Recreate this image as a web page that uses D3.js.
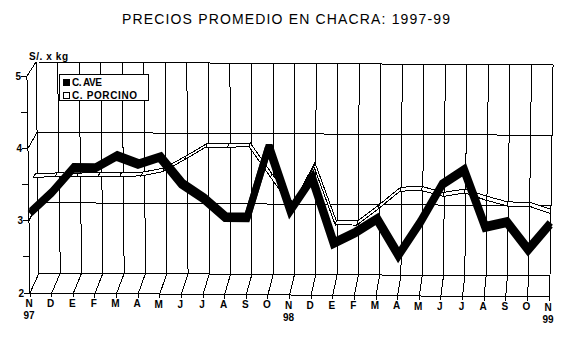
<!DOCTYPE html>
<html><head><meta charset="utf-8">
<script src="https://cdn.jsdelivr.net/npm/d3@7"></script>
<style>
body{margin:0;background:#fff}
svg{display:block}
text{font-family:"Liberation Sans",Arial,sans-serif;fill:#000}
</style>
</head><body>
<svg width="566" height="359"></svg>
<script>
const months = ["N","D","E","F","M","A","M","J","J","A","S","O","N","D","E","F","M","A","M","J","J","A","S","O","N"];
const yearLabels = ["97","","","","","","","","","","","","98","","","","","","","","","","","","99"];
const aveValues = [3.07,3.35,3.69,3.69,3.86,3.75,3.85,3.48,3.28,3.02,3.02,4.01,3.12,3.57,2.67,2.82,3.01,2.51,2.97,3.50,3.70,2.91,2.98,2.60,2.96];
const porcinoValues = [3.47,3.48,3.48,3.49,3.49,3.50,3.56,3.73,3.91,3.91,3.92,3.49,3.07,3.65,2.83,2.83,3.06,3.31,3.32,3.24,3.29,3.19,3.11,3.11,3.01];
const yTicks = [2,3,4,5];
const yMinorTicks = [2,2.5,3,3.5,4,4.5,5];
const seriesNames = ["C. AVE","C. PORCINO"];
const title = "PRECIOS PROMEDIO EN CHACRA: 1997-99";
const yTitle = "S/. x kg";

const svg = d3.select("svg");
const n = months.length - 1;
const xF = d3.scaleLinear().domain([0, n]).range([30, 549]);
const xB = d3.scaleLinear().domain([0, n]).range([39, 550]);
const yF = d3.scaleLinear().domain([2, 5]).range([293, 76]);
const yB = d3.scaleLinear().domain([2, 5]).range([273, 62]);
const tiltF = d3.scaleLinear().domain([0, n]).range([0, 4]);
const tiltB = d3.scaleLinear().domain([0, n]).range([0, 3]);
const spread = d3.scaleLinear().domain([2, 5]).range([1, 1.0117]);
const cx = 290;
function P(i, v, d) {
  const x0 = xF(i), x1 = xB(i);
  let x = x0 + (x1 - x0) * d;
  x = cx + (x - cx) * spread(v);
  const y = (yF(v) + tiltF(i)) * (1 - d) + (yB(v) + tiltB(i)) * d;
  return [x, y];
}
const idx = d3.range(0, n + 1);

const grid = svg.append("g").attr("stroke", "#000").attr("stroke-width", 1).attr("shape-rendering", "crispEdges");
function seg(a, b) {
  grid.append("line").attr("x1", a[0]).attr("y1", a[1]).attr("x2", b[0]).attr("y2", b[1]);
}
// back wall
yTicks.forEach(v => seg(P(0, v, 1), P(n, v, 1)));
idx.forEach(i => seg(P(i, 2, 1), P(i, 5, 1)));
// floor
idx.forEach(i => seg(P(i, 2, 0), P(i, 2, 1)));
// side wall
yTicks.filter(v => v > 2).forEach(v => seg(P(0, v, 0), P(0, v, 1)));
// front axes
seg(P(0, 2, 0), P(n, 2, 0));
seg(P(0, 2, 0), P(0, 5, 0));
yMinorTicks.forEach(v => { const p = P(0, v, 0); seg(p, [p[0] - 6, p[1]]); });
idx.forEach(i => { const p = P(i, 2, 0); seg(p, [p[0], p[1] + 4]); });

// white ribbon (C. PORCINO), behind
(function () {
  const g = svg.append("g").attr("shape-rendering", "crispEdges");
  const d0 = 0.55, d1 = 0.77;
  for (let k = 0; k < n; k++) {
    const pts = [P(k, porcinoValues[k], d0), P(k + 1, porcinoValues[k + 1], d0),
                 P(k + 1, porcinoValues[k + 1], d1), P(k, porcinoValues[k], d1)];
    g.append("polygon").attr("points", pts.map(p => p.join(",")).join(" "))
      .attr("fill", "#fff").attr("stroke", "#000").attr("stroke-width", 1);
  }
})();

// black ribbon (C. AVE), front
(function () {
  const g = svg.append("g");
  const d0 = 0.12, d1 = 0.27;
  for (let k = 0; k < n; k++) {
    const pts = [P(k, aveValues[k], d0), P(k + 1, aveValues[k + 1], d0),
                 P(k + 1, aveValues[k + 1], d1), P(k, aveValues[k], d1)];
    g.append("polygon").attr("points", pts.map(p => p.join(",")).join(" ")).attr("fill", "#000");
  }
  const line = d3.line();
  [d0, d1].forEach(d => {
    g.append("path").attr("d", line(idx.map(i => P(i, aveValues[i], d))))
      .attr("fill", "none").attr("stroke", "#000").attr("stroke-width", 7)
      .attr("stroke-linejoin", "miter").attr("stroke-miterlimit", 3).attr("stroke-linecap", "butt");
  });
})();

// y tick labels
yTicks.forEach(v => {
  const p = P(0, v, 0);
  svg.append("text").attr("x", p[0] - 6).attr("y", p[1] + 3.5).attr("text-anchor", "end")
    .attr("font-size", 10).attr("font-weight", "bold").text(v);
});
// x labels
idx.forEach(i => {
  const p = P(i, 2, 0);
  svg.append("text").attr("x", p[0] - 1).attr("y", p[1] + 13.5).attr("text-anchor", "middle")
    .attr("font-size", 10).attr("font-weight", "bold").text(months[i]);
  if (yearLabels[i]) {
    svg.append("text").attr("x", p[0] - 1).attr("y", p[1] + 26).attr("text-anchor", "middle")
      .attr("font-size", 10).attr("font-weight", "bold").text(yearLabels[i]);
  }
});
// y title
svg.append("text").attr("x", 29).attr("y", 59.5).attr("font-size", 10).attr("font-weight", "bold")
  .attr("textLength", 39).attr("lengthAdjust", "spacing").text(yTitle);
// title
svg.append("text").attr("x", 122).attr("y", 24).attr("font-size", 14)
  .attr("textLength", 328).attr("lengthAdjust", "spacing").text(title);

// legend
const lg = svg.append("g");
lg.append("rect").attr("x", 59.5).attr("y", 74.5).attr("width", 89).attr("height", 26)
  .attr("fill", "#fff").attr("stroke", "#000").attr("shape-rendering", "crispEdges");
const legendFills = ["#000", "#fff"];
const legendLens = [30, 65];
seriesNames.forEach((name, k) => {
  const y0 = 79 + k * 12.5;
  lg.append("rect").attr("x", 63.5).attr("y", y0 + 0.5).attr("width", 6).attr("height", 6)
    .attr("fill", legendFills[k]).attr("stroke", "#000").attr("shape-rendering", "crispEdges");
  lg.append("text").attr("x", 72).attr("y", y0 + 7).attr("font-size", 10).attr("font-weight", "bold")
    .attr("textLength", legendLens[k]).attr("lengthAdjust", "spacing").text(name);
});
</script>
</body></html>
